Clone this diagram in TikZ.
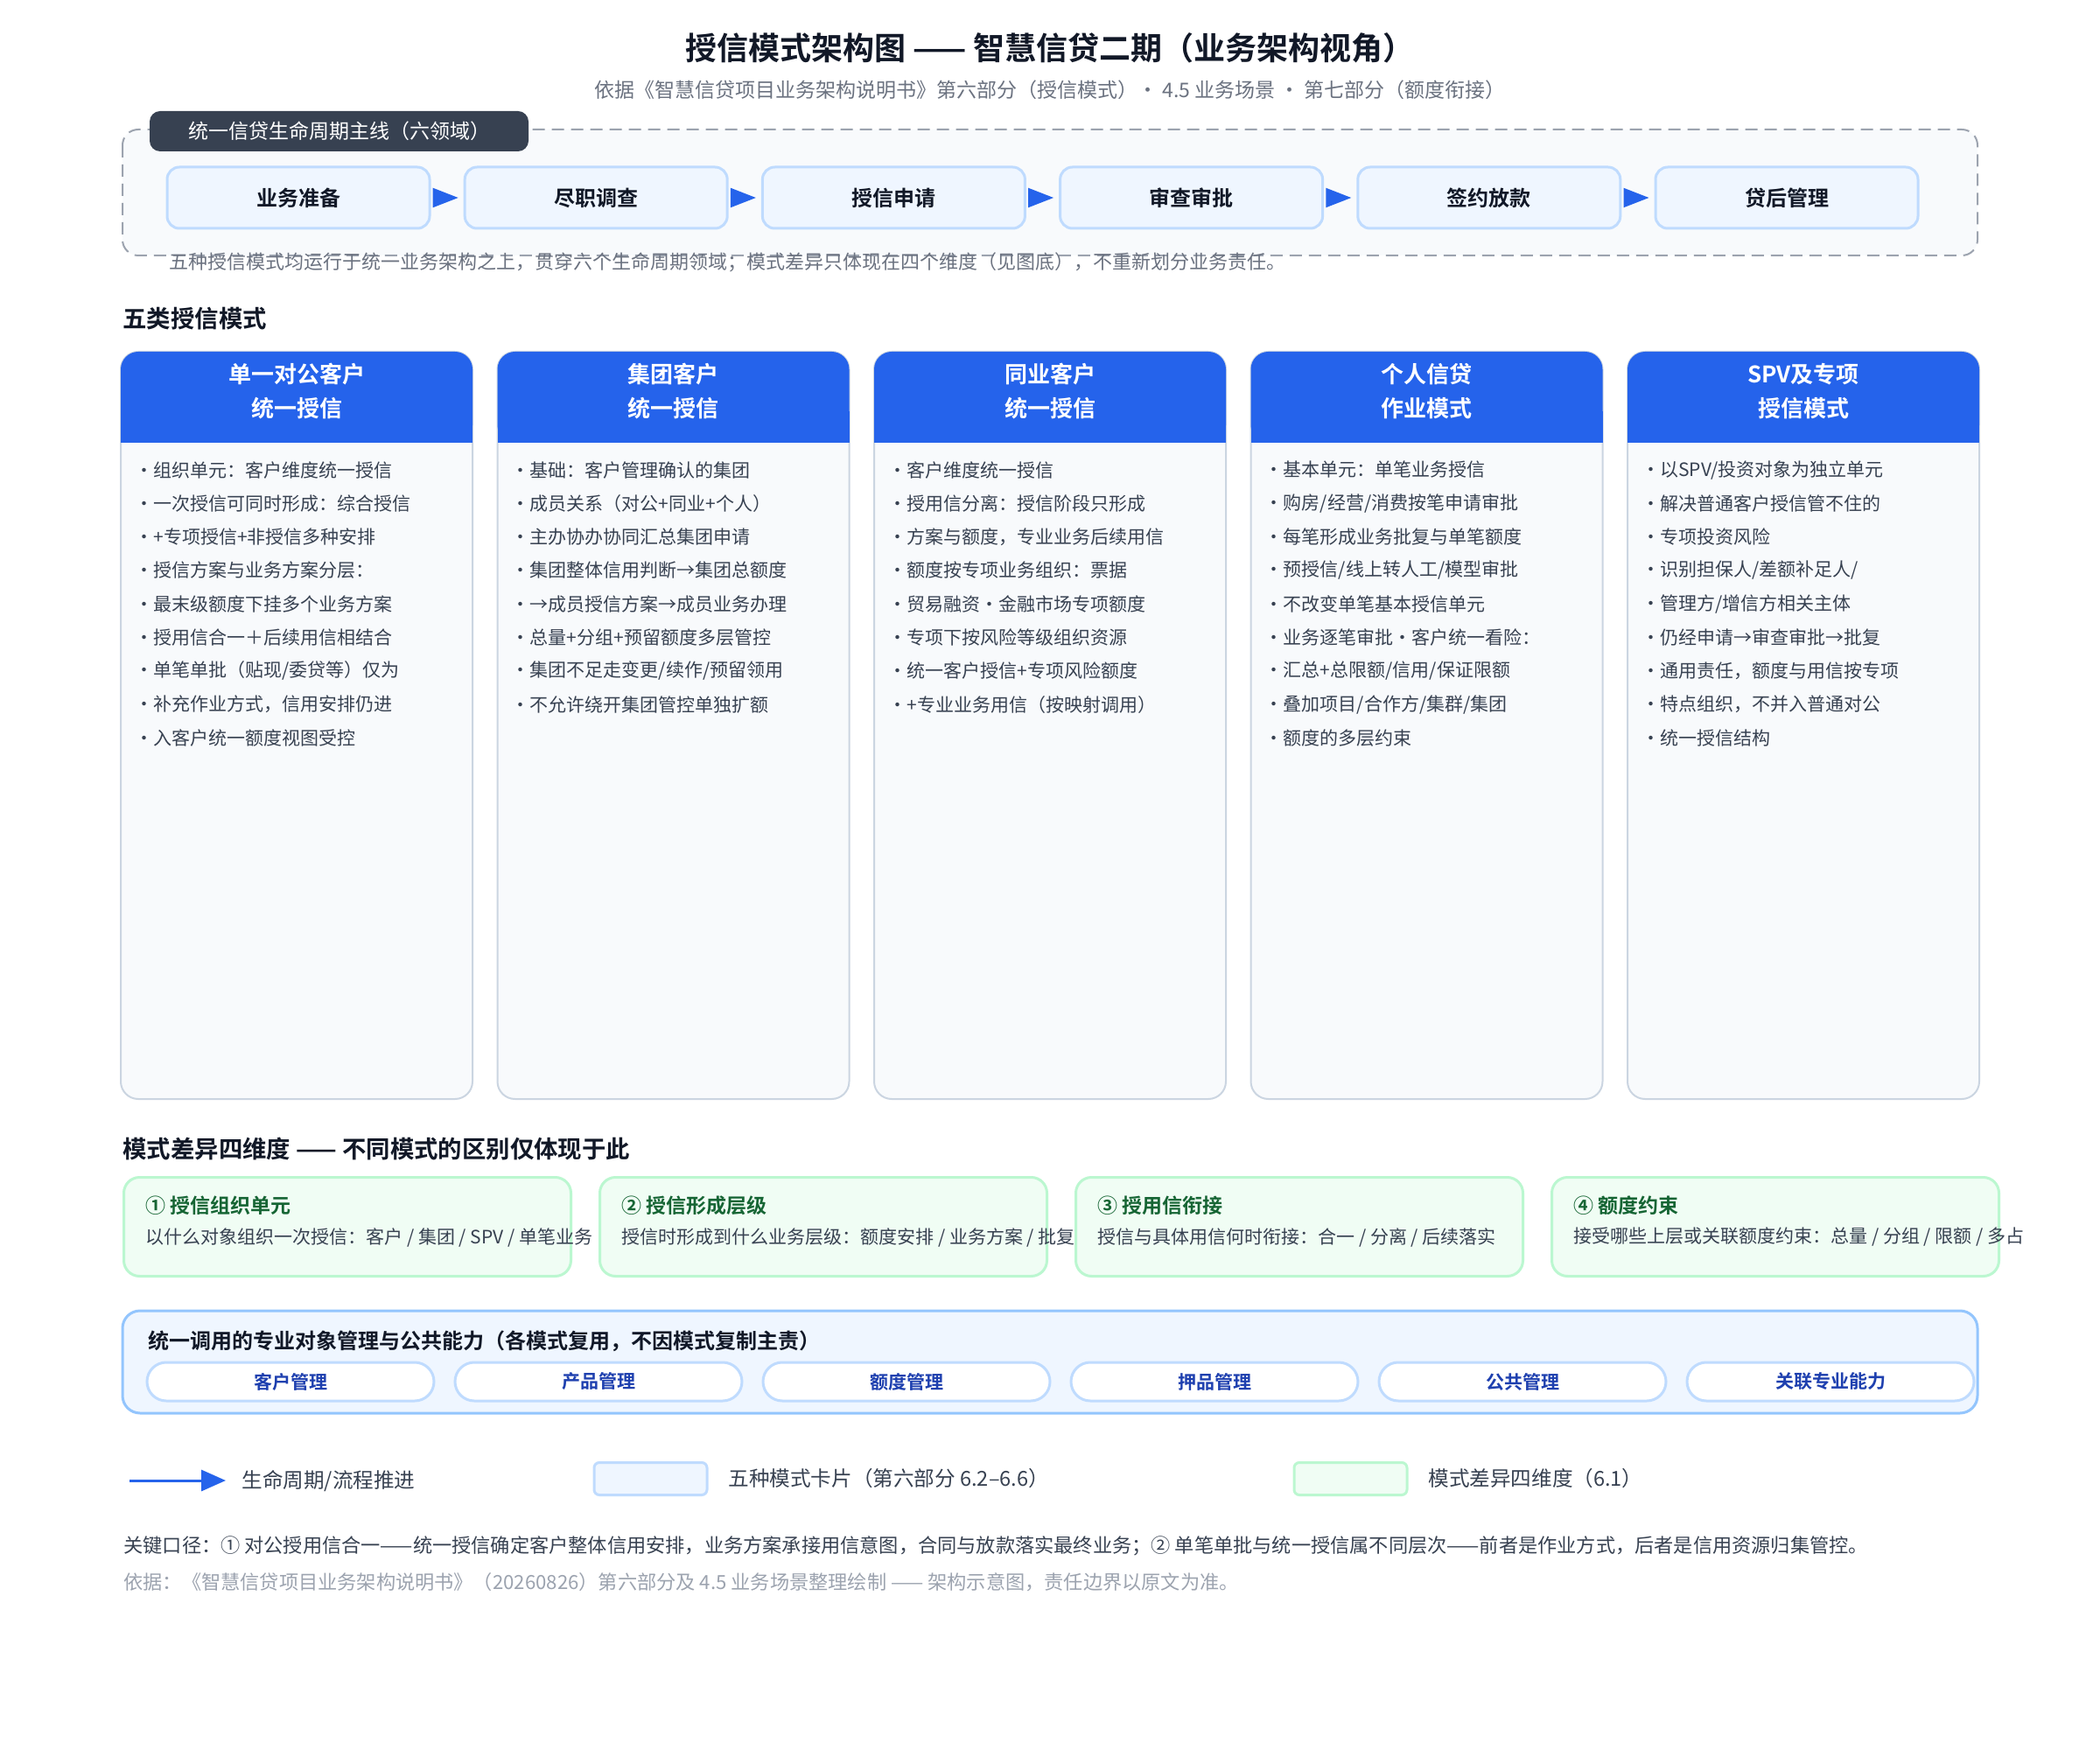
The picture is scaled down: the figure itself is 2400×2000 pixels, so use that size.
\documentclass[tikz,border=0pt]{standalone}
\usepackage{fontspec}
\setmainfont{Noto Sans CJK SC}[BoldFont={Noto Sans CJK SC Bold}]
\usetikzlibrary{arrows.meta}
\definecolor{ink}{HTML}{111827}
\definecolor{txt}{HTML}{374151}
\definecolor{mute}{HTML}{6B7280}
\definecolor{faint}{HTML}{9CA3AF}
\definecolor{slate}{HTML}{374151}
\definecolor{flowblue}{HTML}{2563EB}
\definecolor{paleblue}{HTML}{EFF6FF}
\definecolor{lineblue}{HTML}{BFDBFE}
\definecolor{bandline}{HTML}{93C5FD}
\definecolor{navy}{HTML}{1E40AF}
\definecolor{palegreen}{HTML}{F0FDF4}
\definecolor{linegreen}{HTML}{BBF7D0}
\definecolor{deepgreen}{HTML}{166534}
\definecolor{cardbg}{HTML}{F8FAFC}
\definecolor{cardline}{HTML}{CBD5E1}
\tikzset{
  stage/.style={draw=lineblue,fill=paleblue,line width=1.5pt,rounded corners=7pt,
    minimum width=150pt,minimum height=35pt,text=ink,font=\fontsize{12pt}{14pt}\selectfont\bfseries},
  flow/.style={-{Triangle[length=14.5pt,width=11pt]},flowblue,line width=1pt,shorten <=3.5pt,shorten >=3pt},
  item/.style={anchor=west,inner sep=0pt,text=txt,font=\fontsize{10.5pt}{12pt}\selectfont},
  head/.style={anchor=west,inner sep=0pt,text=ink,font=\fontsize{13.7pt}{15pt}\selectfont\bfseries},
  cardhead/.style={align=center,text=white,font=\fontsize{13pt}{19.5pt}\selectfont\bfseries},
  dimbox/.style={anchor=north west,draw=linegreen,fill=palegreen,line width=1.5pt,rounded corners=9pt,
    minimum width=255.5pt,minimum height=56.5pt},
  pill/.style={draw=lineblue,fill=white,line width=1.5pt,rounded corners=11pt,minimum width=164pt,
    minimum height=22pt,text=navy,font=\fontsize{10.5pt}{12pt}\selectfont\bfseries},
  legtext/.style={anchor=west,inner sep=0pt,text=txt,font=\fontsize{11.8pt}{13pt}\selectfont},
  legbox/.style={line width=1.5pt,rounded corners=3pt,minimum width=64.5pt,minimum height=18.5pt}
}
\begin{document}
\begin{tikzpicture}[x=0.5pt,y=-0.5pt]
\useasboundingbox[fill=white] (0,0) rectangle (2400,2000);
\node[text=ink,font=\fontsize{18pt}{20pt}\selectfont\bfseries] (title) at (1200,55) {授信模式架构图 —— 智慧信贷二期（业务架构视角）};
\node[text=mute,font=\fontsize{11.5pt}{13pt}\selectfont] (sub) at (1200,103) {依据《智慧信贷项目业务架构说明书》第六部分（授信模式）· 4.5 业务场景 · 第七部分（额度衔接）};

\draw[faint,fill=cardbg,line width=1pt,dash pattern=on 7pt off 4pt,rounded corners=9pt] (140,148) rectangle (2260,292);
\node[fill=slate,text=white,rounded corners=6pt,minimum width=216.5pt,minimum height=23pt,
  font=\fontsize{11.5pt}{13pt}\selectfont] (tab) at (387.5,150) {统一信贷生命周期主线（六领域）};
\foreach \n [count=\i] in {业务准备,尽职调查,授信申请,审查审批,签约放款,贷后管理}
  \node[stage] (s\i) at ({341+340.2*(\i-1)},226) {\n};
\foreach \a/\b in {1/2,2/3,3/4,4/5,5/6}
  \draw[flow] (s\a) -- (s\b);
\node[anchor=west,inner sep=0pt,text=mute,font=\fontsize{11pt}{12pt}\selectfont] (note) at (193,300)
  {五种授信模式均运行于统一业务架构之上，贯穿六个生命周期领域；模式差异只体现在四个维度（见图底），不重新划分业务责任。};

\node[head] (h1) at (140,364) {五类授信模式};
\foreach \i/\hd in {0/{单一对公客户\\统一授信},1/{集团客户\\统一授信},2/{同业客户\\统一授信},3/{个人信贷\\作业模式},4/{SPV及专项\\授信模式}}{
  \draw[cardline,fill=cardbg,line width=1pt,rounded corners=10pt] ({138+430.5*\i},402) rectangle ++(402,854);
  \fill[flowblue,rounded corners=10pt] ({138+430.5*\i},402) rectangle ++(402,104);
  \fill[flowblue] ({138+430.5*\i},470) rectangle ++(402,36);
  \node[cardhead] (c\i) at ({339+430.5*\i},447) {\hd};
}
\foreach \t [count=\k] in {组织单元：客户维度统一授信,一次授信可同时形成：综合授信,+专项授信+非授信多种安排,授信方案与业务方案分层：,最末级额度下挂多个业务方案,授用信合一＋后续用信相结合,单笔单批（贴现/委贷等）仅为,补充作业方式，信用安排仍进,入客户统一额度视图受控}
  \node[item] (ca\k) at (154,{537+38.3*(\k-1)}) {·\t};
\foreach \t [count=\k] in {基础：客户管理确认的集团,成员关系（对公+同业+个人）,主办协办协同汇总集团申请,集团整体信用判断→集团总额度,→成员授信方案→成员业务办理,总量+分组+预留额度多层管控,集团不足走变更/续作/预留领用,不允许绕开集团管控单独扩额}
  \node[item] (cb\k) at (584.5,{537+38.3*(\k-1)}) {·\t};
\foreach \t [count=\k] in {客户维度统一授信,授用信分离：授信阶段只形成,方案与额度，专业业务后续用信,额度按专项业务组织：票据,贸易融资·金融市场专项额度,专项下按风险等级组织资源,统一客户授信+专项风险额度,+专业业务用信（按映射调用）}
  \node[item] (cc\k) at (1015,{537+38.3*(\k-1)}) {·\t};
\foreach \t [count=\k] in {基本单元：单笔业务授信,购房/经营/消费按笔申请审批,每笔形成业务批复与单笔额度,预授信/线上转人工/模型审批,不改变单笔基本授信单元,业务逐笔审批·客户统一看险：,汇总+总限额/信用/保证限额,叠加项目/合作方/集群/集团,额度的多层约束}
  \node[item] (cd\k) at (1445.5,{537+38.3*(\k-1)}) {·\t};
\foreach \t [count=\k] in {以SPV/投资对象为独立单元,解决普通客户授信管不住的,专项投资风险,识别担保人/差额补足人/,管理方/增信方相关主体,仍经申请→审查审批→批复,通用责任，额度与用信按专项,特点组织，不并入普通对公,统一授信结构}
  \node[item] (ce\k) at (1876,{537+38.3*(\k-1)}) {·\t};

\node[head] (h2) at (140,1313) {模式差异四维度 —— 不同模式的区别仅体现于此};
\foreach \i/\hd/\ds in {0/{① 授信组织单元}/{以什么对象组织一次授信：客户 / 集团 / SPV / 单笔业务},
    1/{② 授信形成层级}/{授信时形成到什么业务层级：额度安排 / 业务方案 / 批复},
    2/{③ 授用信衔接}/{授信与具体用信何时衔接：合一 / 分离 / 后续落实},
    3/{④ 额度约束}/{接受哪些上层或关联额度约束：总量 / 分组 / 限额 / 多占}}{
  \node[dimbox] (d\i) at ({140+544*\i},1344) {};
  \node[anchor=west,inner sep=0pt,text=deepgreen,font=\fontsize{11.5pt}{13pt}\selectfont\bfseries] (dt\i) at ({166+544*\i},1378) {\hd};
  \node[anchor=west,inner sep=0pt,text=txt,font=\fontsize{10.5pt}{12pt}\selectfont] (dd\i) at ({166+544*\i},1414) {\ds};
}

\draw[bandline,fill=paleblue,line width=1.5pt,rounded corners=10pt] (140,1498) rectangle (2260,1615);
\node[head,font=\fontsize{12pt}{13pt}\selectfont\bfseries] (band) at (169,1533) {统一调用的专业对象管理与公共能力（各模式复用，不因模式复制主责）};
\foreach \n [count=\i] in {客户管理,产品管理,额度管理,押品管理,公共管理,关联专业能力}
  \node[pill] (p\i) at ({332+352*(\i-1)},1579) {\n};

\coordinate (la) at (148,1692);
\coordinate (lb) at (258,1692);
\draw[-{Triangle[length=14pt,width=12pt]},flowblue,line width=1.5pt] (la) -- (lb);
\node[legtext] (l1) at (276,1693) {生命周期/流程推进};
\node[legbox,draw=lineblue,fill=paleblue] (k2) at (743.5,1690) {};
\node[legtext] (l2) at (832,1690) {五种模式卡片（第六部分 6.2–6.6）};
\node[legbox,draw=linegreen,fill=palegreen] (k3) at (1543.5,1690) {};
\node[legtext] (l3) at (1632,1690) {模式差异四维度（6.1）};

\node[anchor=west,inner sep=0pt,text=txt,font=\fontsize{11.1pt}{12pt}\selectfont] (f1) at (141,1767)
  {关键口径：① 对公授用信合一——统一授信确定客户整体信用安排，业务方案承接用信意图，合同与放款落实最终业务；② 单笔单批与统一授信属不同层次——前者是作业方式，后者是信用资源归集管控。};
\node[anchor=west,inner sep=0pt,text=faint,font=\fontsize{11.1pt}{12pt}\selectfont] (f2) at (141,1808)
  {依据：《智慧信贷项目业务架构说明书》（20260826）第六部分及 4.5 业务场景整理绘制 —— 架构示意图，责任边界以原文为准。};
\end{tikzpicture}
\end{document}
